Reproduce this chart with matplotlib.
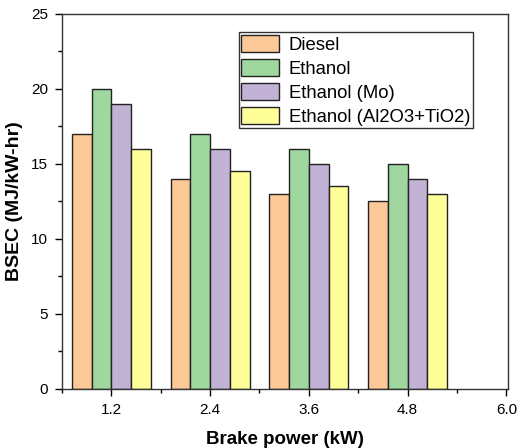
import numpy as np
import matplotlib
matplotlib.use("Agg")
import matplotlib.pyplot as plt
from matplotlib.ticker import MultipleLocator

plt.rcParams['font.family'] = ['Liberation Sans', 'DejaVu Sans']

power = [1.2, 2.4, 3.6, 4.8]
series = ["Diesel", "Ethanol", "Ethanol (Mo)", "Ethanol (Al2O3+TiO2)"]
diesel = [17, 14, 13, 12.5]
ethanol = [20, 17, 16, 15]
ethanol_mo = [19, 16, 15, 14]
ethanol_al = [16, 14.5, 13.5, 13]
colors = ["#FDC897", "#9FD79E", "#C1B2D6", "#FFFF9A"]

fig = plt.figure(figsize=(5.2, 4.48), dpi=100)
ax = fig.add_axes([0.119, 0.132, 0.858, 0.837])

width = 0.24
x = np.array(power)
for i, vals in enumerate([diesel, ethanol, ethanol_mo, ethanol_al]):
    ax.bar(x + (i - 1.5) * width, vals, width, color=colors[i],
           edgecolor="#222222", linewidth=1.0, label=series[i])

ax.set_xlim(0.6, 6.02)
ax.set_ylim(0, 25)
ax.set_xticks([1.2, 2.4, 3.6, 4.8, 6.0])
ax.set_xticklabels(["1.2", "2.4", "3.6", "4.8", "6.0"])
ax.xaxis.set_minor_locator(MultipleLocator(0.6))
ax.yaxis.set_major_locator(MultipleLocator(5))
ax.yaxis.set_minor_locator(MultipleLocator(2.5))
ax.tick_params(which="both", direction="out", top=False, right=False, labelsize=11)
ax.tick_params(which="major", length=5, width=1.0, pad=5)
ax.tick_params(which="minor", length=3, width=1.0)
for s in ax.spines.values():
    s.set_linewidth(1.0)
    s.set_color("#333333")

ax.set_xlabel("Brake power (kW)", fontsize=13.5, fontweight="bold", labelpad=10)
ax.set_ylabel("BSEC (MJ/kW-hr)", fontsize=14, fontweight="bold", labelpad=6)

leg = ax.legend(loc="upper right", bbox_to_anchor=(0.921, 0.952), fontsize=13.3,
                frameon=True, fancybox=False, edgecolor="black",
                handlelength=2.05, handleheight=1.1, labelspacing=0.26,
                handletextpad=0.5, borderpad=0.15, borderaxespad=0.0)
leg.get_frame().set_linewidth(1.0)

fig.savefig("out.png", dpi=100)
